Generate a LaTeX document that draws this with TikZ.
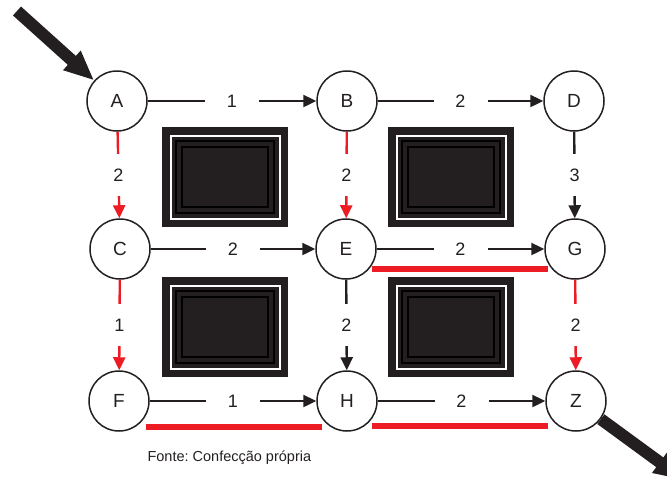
\documentclass[tikz,border=0pt]{standalone}
\usepackage{fontspec}
\setmainfont{Liberation Sans}
\usetikzlibrary{arrows.meta,calc}
\definecolor{ink}{HTML}{231F20}
\definecolor{rbar}{HTML}{ED1C24}
\frenchspacing
\tikzset{
  state/.style={circle,draw=ink,line width=1.5pt,minimum size=60pt,inner sep=0pt,font=\fontsize{19}{19}\selectfont,text=ink},
  blk/.style={draw=ink,line width=2.4pt,-{Triangle[length=13pt,width=12pt]}},
  rblk/.style={draw=rbar,line width=2.4pt,-{Triangle[length=13pt,width=12pt]}},
  hlab/.style={fill=white,inner sep=0pt,minimum width=54pt,minimum height=14pt,font=\fontsize{18}{18}\selectfont,text=ink},
  vlab/.style={fill=white,inner sep=0pt,minimum height=42pt,minimum width=14pt,font=\fontsize{18}{18}\selectfont,text=ink},
  redbar/.style={draw=rbar,line width=6pt},
  bigarrow/.style={draw=ink,line width=12pt,-{Triangle[length=30pt,width=24pt]}},
  obstacle/.pic={
    \fill[ink] (0,0) rectangle (126,100);
    \draw[white,line width=2pt] (8.5,8.5) rectangle (117.5,91.5);
    \draw[black,line width=1.2pt] (14,14) rectangle (112,86);
    \draw[black,line width=1.2pt] (20,20) rectangle (106,80);
  }
}
\begin{document}
\begin{tikzpicture}[x=1pt,y=-1pt]
\useasboundingbox (0,0) rectangle (667,483);
\clip (0,0) rectangle (667,483);
% obstacles
\pic at (162,127) {obstacle};
\pic at (388,127) {obstacle};
\pic at (162,277) {obstacle};
\pic at (388,277) {obstacle};
% nodes
\node[state] (A) at (117,101) {A};
\node[state] (B) at (347,101) {B};
\node[state] (D) at (574,101) {D};
\node[state] (C) at (120,249) {C};
\node[state] (E) at (346,249) {E};
\node[state] (G) at (575,249) {G};
\node[state] (F) at (119,401) {F};
\node[state] (H) at (347,401) {H};
\node[state] (Z) at (576,401) {Z};
% horizontal edges
\draw[blk] (A) -- node[hlab] {1} (B);
\draw[blk] (B) -- node[hlab] {2} (D);
\draw[blk] (C) -- node[hlab] {2} (E);
\draw[blk] (E) -- node[hlab] {2} (G);
\draw[blk] (F) -- node[hlab] {1} (H);
\draw[blk] (H) -- node[hlab] {2} (Z);
% vertical edges
\draw[rblk] (A) -- node[vlab] {2} (C);
\draw[rblk] (C) -- node[vlab] {1} (F);
\draw[rblk] (B) -- node[vlab] {2} (E);
\draw[blk] (E) -- node[vlab] {2} (H);
\draw[blk] (D) -- node[vlab] {3} (G);
\draw[rblk] (G) -- node[vlab] {2} (Z);
% red bars
\draw[redbar] ($(E)+(26,20)$) -- ($(G)+(-27,20)$);
\draw[redbar] ($(F)+(27,26)$) -- ($(H)+(-25,26)$);
\draw[redbar] ($(H)+(25,25)$) -- ($(Z)+(-28,25)$);
% big arrows
\coordinate (in) at (17,11);
\coordinate (out) at (684,480);
\draw[bigarrow] (in) -- (A);
\draw[bigarrow] (Z) -- (out);
% caption
\node[font=\fontsize{14.5}{14.5}\selectfont,text=ink,anchor=west] (cap) at (144,458) {Fonte: Confecção própria};
\end{tikzpicture}
\end{document}
